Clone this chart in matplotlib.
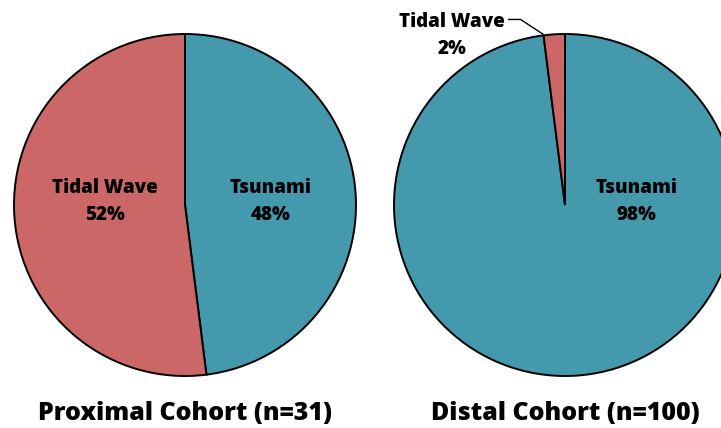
import matplotlib
matplotlib.use("Agg")
import matplotlib.pyplot as plt

plt.rcParams['font.family'] = ['Open Sans', 'DejaVu Sans']

categories = ["Tsunami", "Tidal Wave"]
proximal_values = [48, 52]
distal_values = [98, 2]
titles = ["Proximal Cohort (n=31)", "Distal Cohort (n=100)"]
colors = ["#4499AD", "#CB6766"]

W, H = 721, 428
fig = plt.figure(figsize=(W / 100, H / 100), dpi=100)


def pie_axes(cx, cy, r):
    ax = fig.add_axes([(cx - r) / W, (H - cy - r) / H, 2 * r / W, 2 * r / H])
    ax.axis("off")
    return ax


def fix_limits(ax):
    ax.set_xlim(-1, 1)
    ax.set_ylim(-1, 1)
    ax.set_aspect("equal")


label_kw = dict(ha="center", va="center", fontsize=13.5, fontweight="heavy", linespacing=1.5)

# left pie
ax1 = pie_axes(185, 205, 171)
ax1.pie(proximal_values, colors=colors, startangle=90, counterclock=False,
        radius=1, wedgeprops=dict(edgecolor="black", linewidth=1.4))
fix_limits(ax1)
ax1.text(0.50, 0.02, f"{categories[0]}\n{proximal_values[0]}%", **label_kw)
ax1.text(-0.47, 0.02, f"{categories[1]}\n{proximal_values[1]}%", **label_kw)

# right pie
ax2 = pie_axes(565, 205, 171)
for w in ax2.pie(distal_values, colors=colors, startangle=90, counterclock=False,
                 radius=1, wedgeprops=dict(edgecolor="black", linewidth=1.4))[0]:
    w.set_clip_on(False)
fix_limits(ax2)
ax2.text(0.42, 0.02, f"{categories[0]}\n{distal_values[0]}%", **label_kw)
ax2.text(-0.66, 0.99, f"{categories[1]}\n{distal_values[1]}%", clip_on=False, **label_kw)
ax2.plot([-0.33, -0.26, -0.13], [1.085, 1.085, 1.0], color="black", lw=1, clip_on=False)

fig.text(185 / W, 1 - 414 / H, titles[0], ha="center", va="center",
         fontsize=18, fontweight="heavy")
fig.text(565 / W, 1 - 414 / H, titles[1], ha="center", va="center",
         fontsize=18, fontweight="heavy")

fig.savefig("out.png", dpi=100)
